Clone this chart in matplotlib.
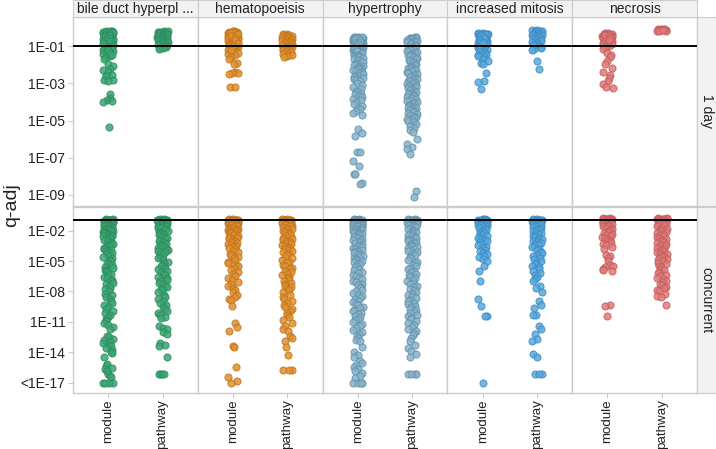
import numpy as np
import matplotlib
matplotlib.use("Agg")
import matplotlib.pyplot as plt
from matplotlib.ticker import FixedLocator, NullLocator

plt.rcParams['font.family'] = ['Liberation Sans', 'DejaVu Sans']

# ---------------- data (log10 of q-adj) ----------------
phenotypes = ["bile duct hyperpl ...", "hematopoeisis", "hypertrophy", "increased mitosis", "necrosis"]
groups = ["module", "pathway"]
rows = ["1 day", "concurrent"]
colors = ["#3aa773", "#e0902e", "#86b3cb", "#58a8dc", "#e07a7a"]
edges = ["#2d8a5c", "#c0731d", "#6390a9", "#3b8ac0", "#c45c5c"]

# 1 day
bile_mod_1d = [-0.2,-0.21,-0.23,-0.25,-0.27,-0.29,-0.31,-0.33,-0.35,-0.37,-0.4,-0.42,-0.44,-0.46,-0.48,-0.5,-0.53,-0.55,-0.57,-0.6,-0.62,-0.64,-0.67,-0.7,-0.72,-0.75,-0.78,-0.8,-0.83,-0.86,-0.9,-0.93,-0.96,-1.0,-1.03,-1.07,-1.1,-1.14,-1.18,-1.22,-1.27,-1.32,-1.37,-1.42,-1.48,-1.55,-1.6,
               -0.2,-0.22,-0.24,-0.26,-0.3,-0.34,-0.38,-0.45,-0.52,-0.58,-0.65,-0.74,-0.85,-0.95,-1.05,-1.2,-1.35,-1.5,
               -1.7,-1.95,-2.05,-2.23,-2.3,-2.38,-2.55,-2.58,-2.6,-2.8,-2.83,-2.85,-3.58,-3.8,-3.88,-3.95,-3.98,-5.34]
bile_path_1d = [-0.2,-0.21,-0.22,-0.24,-0.25,-0.27,-0.28,-0.3,-0.32,-0.33,-0.35,-0.37,-0.4,-0.42,-0.44,-0.46,-0.48,-0.5,-0.53,-0.55,-0.58,-0.6,-0.62,-0.65,-0.68,-0.7,-0.73,-0.76,-0.8,-0.83,-0.86,-0.9,-0.93,-0.96,-1.0,-1.04,-1.08,-1.12,-1.15]
hem_mod_1d = [-0.2,-0.21,-0.22,-0.24,-0.25,-0.27,-0.29,-0.31,-0.33,-0.35,-0.37,-0.4,-0.42,-0.44,-0.47,-0.5,-0.52,-0.55,-0.58,-0.6,-0.63,-0.66,-0.7,-0.73,-0.76,-0.8,-0.83,-0.86,-0.9,-0.94,-0.98,-1.02,-1.06,-1.1,-1.15,-1.2,-1.25,-1.3,-1.36,-1.42,-1.5,-1.58,
              -0.22,-0.26,-0.3,-0.36,-0.45,-0.55,-0.68,-0.85,-1.0,-1.2,
              -1.7,-1.9,-1.95,-2.4,-2.42,-2.45,-2.5,-3.22,-3.22]
hem_path_1d = [-0.35,-0.37,-0.39,-0.42,-0.44,-0.46,-0.5,-0.52,-0.55,-0.58,-0.6,-0.63,-0.66,-0.7,-0.73,-0.76,-0.8,-0.83,-0.86,-0.9,-0.93,-0.96,-1.0,-1.03,-1.06,-1.1,-1.14,-1.18,-1.22,-1.26,-1.3,-1.35,-1.4,-1.45,-1.5,-1.55,-1.6]
hyp_mod_1d = [-0.5,-0.51,-0.53,-0.55,-0.56,-0.58,-0.6,-0.62,-0.64,-0.66,-0.68,-0.7,-0.72,-0.74,-0.76,-0.78,-0.8,-0.82,-0.84,-0.86,-0.88,-0.9,-0.93,-0.96,-1.0,-1.03,-1.06,-1.1,-1.13,-1.16,-1.2,-1.23,-1.26,-1.3,-1.34,-1.38,-1.42,-1.46,-1.5,
              -0.52,-0.57,-0.63,-0.69,-0.75,-0.81,-0.87,-0.95,-1.05,-1.15,-1.25,-1.35,-1.45,
              -1.55,-1.6,-1.65,-1.7,-1.75,-1.8,-1.85,-1.9,-1.95,-2.0,-2.05,-2.1,-2.15,-2.2,-2.25,-2.3,-2.35,-2.4,-2.45,-2.5,-2.55,-2.6,-2.65,-2.7,-2.75,-2.8,-2.9,-3.0,-3.1,-3.2,-3.3,-3.4,-3.45,-3.55,-3.6,-3.7,-3.75,-3.85,-3.9,-4.0,-4.1,-4.2,-4.3,-4.4,-4.5,-4.6,-4.7,
              -5.43,-5.69,-5.83,-6.7,-6.72,-7.18,-7.45,-7.86,-7.9,-8.35,-8.43]
hyp_path_1d = [-0.5,-0.52,-0.54,-0.56,-0.58,-0.6,-0.63,-0.66,-0.7,-0.73,-0.76,-0.8,-0.85,-0.9,-0.95,-1.0,-1.05,-1.1,-1.15,-1.2,-1.25,-1.3,-1.35,-1.4,-1.45,-1.5,-1.55,-1.6,-1.65,-1.7,-1.75,-1.8,-1.85,-1.9,-1.95,-2.0,-2.05,-2.1,-2.15,-2.2,-2.25,-2.3,-2.35,-2.4,-2.45,-2.5,-2.55,-2.6,-2.65,-2.7,-2.75,-2.8,-2.85,-2.9,-2.95,-3.0,
               -3.05,-3.1,-3.15,-3.2,-3.25,-3.3,-3.35,-3.4,-3.45,-3.5,-3.55,-3.6,-3.65,-3.7,-3.75,-3.8,-3.85,-3.9,-3.95,-4.0,-4.05,-4.1,-4.15,-4.2,-4.25,-4.3,-4.35,-4.4,-4.45,-4.5,-4.55,-4.6,-4.65,-4.7,-4.75,-4.8,-4.85,-4.9,-4.95,-5.0,-5.1,-5.2,-5.3,-5.4,-5.5,-5.6,
               -6.0,-6.28,-6.4,-6.55,-6.78,-8.8,-9.1]
mit_mod_1d = [-0.3,-0.31,-0.33,-0.35,-0.37,-0.39,-0.41,-0.43,-0.46,-0.48,-0.5,-0.53,-0.56,-0.6,-0.63,-0.66,-0.7,-0.73,-0.76,-0.8,-0.83,-0.86,-0.9,-0.94,-0.98,-1.02,-1.06,-1.1,-1.15,-1.2,-1.25,-1.3,-1.35,-1.4,-1.45,-1.5,-1.55,-1.6,-1.7,-1.8,-1.9,-1.95,
              -0.32,-0.36,-0.4,-0.45,-0.55,-0.65,-0.75,-0.85,
              -2.42,-2.9,-2.95,-3.31]
mit_path_1d = [-0.14,-0.15,-0.17,-0.19,-0.21,-0.23,-0.25,-0.27,-0.3,-0.32,-0.35,-0.38,-0.4,-0.43,-0.46,-0.5,-0.53,-0.56,-0.6,-0.63,-0.66,-0.7,-0.73,-0.76,-0.8,-0.84,-0.88,-0.92,-0.96,-1.0,-1.05,-1.1,-1.15,-1.22,-1.81,-2.23]
nec_mod_1d = [-0.3,-0.31,-0.33,-0.35,-0.37,-0.39,-0.41,-0.43,-0.45,-0.48,-0.5,-0.53,-0.55,-0.58,-0.6,-0.63,-0.66,-0.7,-0.73,-0.76,-0.8,-0.83,-0.86,-0.9,-0.94,-0.98,-1.02,-1.05,
              -0.32,-0.36,-0.4,-0.47,-0.56,-0.65,
              -1.15,-1.35,-1.45,-1.6,-1.8,-1.95,-2.2,-2.4,-2.55,-2.7,-2.85,-3.05,-3.2,-3.25]
nec_path_1d = [-0.08,-0.09,-0.1,-0.11,-0.12,-0.13,-0.14,-0.15,-0.16,-0.18,-0.2,-0.1,-0.15]

# concurrent
bile_mod_c = [-0.9,-0.91,-0.92,-0.94,-0.95,-0.97,-0.98,-1.0,-1.02,-1.04,-1.06,-1.08,-1.1,-1.12,-1.15,-1.18,-1.2,-1.23,-1.26,-1.3,-1.33,-1.36,-1.4,-1.44,-1.48,-1.52,-1.56,-1.6,-1.65,-1.7,-1.75,-1.8,-1.85,-1.9,-1.95,-2.0,-2.05,-2.1,-2.15,-2.2,-2.25,-2.3,-2.35,-2.4,-2.45,-2.5,-2.55,-2.6,-2.7,-2.8,-2.9,-3.0,-3.1,-3.2,-3.3,-3.4,-3.5,-3.6,-3.7,
              -3.8,-3.9,-4.0,-4.1,-4.2,-4.35,-4.5,-4.6,-4.75,-4.9,-5.0,-5.15,-5.3,-5.4,-5.55,-5.7,-5.85,-6.0,-6.1,-6.25,-6.4,-6.55,-6.7,-6.85,-7.0,-7.15,-7.3,-7.5,-7.65,-7.8,-8.0,-8.2,-8.35,-8.5,-8.7,-8.9,-9.1,-9.3,-9.5,-9.7,-9.9,-10.1,-10.3,-10.5,-10.7,-10.9,-11.1,-11.3,-11.5,-11.7,
              -12.4,-12.5,-12.7,-12.8,-13.0,-13.1,-13.3,-13.4,-13.6,-13.8,-14.0,-14.1,-14.5,-15.1,-15.3,-15.5,-15.6,-15.8,-16.1,-16.3,-16.4,-17,-17,-17,-17]
bile_path_c = [-0.9,-0.91,-0.92,-0.94,-0.96,-0.98,-1.0,-1.03,-1.06,-1.1,-1.13,-1.16,-1.2,-1.25,-1.3,-1.35,-1.4,-1.45,-1.5,-1.55,-1.6,-1.65,-1.7,-1.75,-1.8,-1.9,-2.0,-2.1,-2.2,-2.3,-2.4,-2.5,-2.6,-2.7,-2.8,-2.9,-3.0,-3.1,-3.2,-3.3,-3.4,-3.5,-3.6,-3.7,-3.8,-3.9,-4.0,-4.15,-4.3,-4.45,-4.6,-4.75,-4.9,-5.05,-5.2,-5.35,-5.5,-5.65,-5.8,-5.95,-6.1,-6.25,-6.4,-6.55,-6.7,-6.85,-7.0,-7.15,-7.3,-7.45,-7.6,-7.75,-7.9,-8.1,-8.3,-8.5,-8.7,-8.9,-9.1,-9.3,-9.5,-9.7,-9.9,-10.1,-10.3,-10.5,-10.6,
               -11.4,-11.6,-11.7,-12.0,-12.2,-13.1,-13.3,-13.4,-14.5,-16.15,-16.15,-16.15,-16.15]
hem_mod_c = [-0.9,-0.91,-0.92,-0.93,-0.95,-0.96,-0.98,-1.0,-1.02,-1.04,-1.06,-1.08,-1.1,-1.13,-1.16,-1.2,-1.23,-1.26,-1.3,-1.34,-1.38,-1.42,-1.46,-1.5,-1.55,-1.6,-1.65,-1.7,-1.75,-1.8,-1.85,-1.9,-1.95,-2.0,-2.05,-2.1,-2.15,-2.2,-2.25,-2.3,-2.4,-2.5,-2.6,-2.7,-2.8,-2.9,-3.0,-3.1,-3.2,-3.3,-3.4,-3.5,-3.6,-3.7,
             -3.85,-4.0,-4.15,-4.3,-4.45,-4.6,-4.75,-4.9,-5.05,-5.2,-5.35,-5.5,-5.7,-5.9,-6.1,-6.3,-6.5,-6.7,-6.9,-7.1,-7.3,-7.5,-7.7,-7.9,-8.1,-8.3,-8.5,-8.7,-8.8,
             -9.4,-11.1,-11.5,-11.9,-13.4,-13.5,-15.4,-16.47,-16.8,-17]
hem_path_c = [-0.9,-0.91,-0.92,-0.94,-0.96,-0.98,-1.0,-1.03,-1.06,-1.1,-1.13,-1.16,-1.2,-1.25,-1.3,-1.35,-1.4,-1.45,-1.5,-1.55,-1.6,-1.65,-1.7,-1.8,-1.9,-2.0,-2.1,-2.2,-2.3,-2.4,-2.5,-2.6,-2.7,-2.8,-2.9,-3.0,-3.1,-3.2,-3.3,-3.4,-3.5,-3.6,-3.7,-3.8,-3.9,-4.0,-4.15,-4.3,-4.45,-4.6,-4.75,-4.9,-5.05,-5.2,-5.35,-5.5,-5.65,-5.8,-5.95,-6.1,-6.25,-6.4,-6.55,-6.7,-6.85,-7.0,-7.15,-7.3,-7.45,-7.6,-7.75,-7.9,-8.1,-8.3,-8.5,-8.7,-8.9,-9.1,-9.3,-9.5,-9.7,-9.9,-10.1,-10.3,-10.5,-10.8,-11.1,-11.4,-11.7,-11.9,
              -12.4,-12.6,-12.9,-13.5,-14.3,-15.7,-15.7,-15.7]
hyp_mod_c = [-0.9,-0.91,-0.92,-0.93,-0.94,-0.95,-0.97,-0.98,-1.0,-1.02,-1.04,-1.06,-1.08,-1.1,-1.12,-1.15,-1.18,-1.2,-1.23,-1.26,-1.3,-1.33,-1.36,-1.4,-1.44,-1.48,-1.52,-1.56,-1.6,-1.65,-1.7,-1.75,-1.8,-1.85,-1.9,-1.95,-2.0,-2.05,-2.1,-2.15,-2.2,-2.25,-2.3,-2.35,-2.4,-2.5,-2.6,-2.7,-2.8,-2.9,-3.0,-3.1,-3.2,-3.3,-3.4,-3.5,-3.6,-3.7,-3.8,-3.9,-4.0,
             -4.1,-4.2,-4.3,-4.4,-4.5,-4.6,-4.7,-4.8,-4.9,-5.0,-5.1,-5.2,-5.3,-5.45,-5.6,-5.75,-5.9,-6.05,-6.2,-6.35,-6.5,-6.65,-6.8,-6.95,-7.1,-7.25,-7.4,-7.55,-7.7,-7.85,-8.0,-8.15,-8.3,-8.45,-8.6,-8.75,-8.9,-9.05,-9.2,-9.35,-9.5,-9.65,-9.8,-9.95,-10.1,-10.25,-10.4,-10.55,-10.7,-10.85,-11.0,-11.2,-11.4,-11.6,-11.8,-12.0,-12.2,-12.4,-12.6,-12.8,-12.9,
             -13.5,-14.0,-14.3,-14.5,-14.8,-15.0,-15.2,-15.4,-15.6,-15.8,-16.0,-16.3,-16.5,-17,-17,-17,-17]
hyp_path_c = [-0.9,-0.91,-0.92,-0.94,-0.96,-0.98,-1.0,-1.03,-1.06,-1.1,-1.13,-1.16,-1.2,-1.25,-1.3,-1.35,-1.4,-1.45,-1.5,-1.55,-1.6,-1.65,-1.7,-1.8,-1.9,-2.0,-2.1,-2.2,-2.3,-2.4,-2.5,-2.6,-2.7,-2.8,-2.9,-3.0,-3.1,-3.2,-3.3,-3.4,-3.5,-3.6,-3.7,-3.8,-3.9,-4.0,-4.15,-4.3,-4.45,-4.6,-4.75,-4.9,-5.05,-5.2,-5.35,-5.5,-5.65,-5.8,-5.95,-6.1,-6.25,-6.4,-6.55,-6.7,-6.85,-7.0,-7.15,-7.3,-7.45,-7.6,-7.75,-7.9,-8.05,-8.2,-8.35,-8.5,-8.65,-8.8,-8.95,-9.1,-9.25,-9.4,-9.55,-9.7,-9.85,-10.0,-10.15,-10.3,-10.45,-10.6,-10.75,-10.9,-11.1,-11.3,-11.5,-11.7,-11.9,-12.1,-12.3,-12.6,-12.9,-13.3,-13.6,-13.9,-14.2,-14.5,
              -16.15,-16.15,-16.15,-16.15]
mit_mod_c = [-0.9,-0.91,-0.92,-0.93,-0.95,-0.96,-0.98,-1.0,-1.02,-1.04,-1.06,-1.08,-1.1,-1.13,-1.16,-1.2,-1.23,-1.26,-1.3,-1.34,-1.38,-1.42,-1.46,-1.5,-1.55,-1.6,-1.65,-1.7,-1.8,-1.9,-2.0,-2.1,-2.2,-2.3,-2.4,-2.5,-2.6,-2.7,-2.8,-2.9,-3.0,-3.15,-3.3,-3.45,-3.6,-3.75,-3.9,-4.05,-4.2,-4.35,-4.5,-4.65,-4.8,-5.0,
             -5.5,-6.0,-7.0,-8.7,-9.4,-10.4,-10.4,-17]
mit_path_c = [-0.9,-0.91,-0.92,-0.94,-0.96,-0.98,-1.0,-1.03,-1.06,-1.1,-1.13,-1.16,-1.2,-1.25,-1.3,-1.35,-1.4,-1.45,-1.5,-1.55,-1.6,-1.65,-1.7,-1.8,-1.9,-2.0,-2.1,-2.2,-2.3,-2.4,-2.5,-2.6,-2.7,-2.8,-2.9,-3.0,-3.1,-3.2,-3.3,-3.4,-3.5,-3.65,-3.8,-3.95,-4.1,-4.25,-4.4,-4.55,-4.7,-4.85,-5.0,-5.15,-5.3,-5.45,-5.6,-5.8,-6.0,-6.2,-6.4,-6.6,-6.8,-7.0,
              -7.5,-7.7,-8.1,-8.95,-9.3,-9.6,-10.3,-10.3,-11.4,-11.7,-12.2,-12.7,-12.9,-14.2,-14.5,-16.15,-16.15,-16.15]
nec_mod_c = [-0.8,-0.81,-0.82,-0.84,-0.85,-0.87,-0.88,-0.9,-0.92,-0.94,-0.96,-0.98,-1.0,-1.03,-1.06,-1.1,-1.13,-1.16,-1.2,-1.25,-1.3,-1.35,-1.4,-1.45,-1.5,-1.55,-1.6,-1.7,-1.8,-1.9,-2.0,-2.1,-2.2,-2.3,-2.4,-2.5,-2.6,-2.7,-2.8,-2.9,-3.0,-3.1,-3.2,-3.3,-3.4,
             -3.6,-3.8,-4.4,-4.5,-4.7,-5.0,-5.4,-5.5,-5.6,-5.8,-5.9,-6.0,-9.3,-9.4,-10.4]
nec_path_c = [-0.8,-0.81,-0.82,-0.84,-0.86,-0.88,-0.9,-0.93,-0.96,-1.0,-1.03,-1.06,-1.1,-1.15,-1.2,-1.25,-1.3,-1.35,-1.4,-1.5,-1.6,-1.7,-1.8,-1.9,-2.0,-2.1,-2.2,-2.3,-2.4,-2.5,-2.6,-2.7,-2.8,-2.9,-3.0,-3.1,-3.2,-3.3,-3.4,-3.5,-3.6,-3.7,-3.8,-3.9,-4.0,-4.1,-4.2,-4.3,-4.4,-4.5,-4.6,-4.7,-4.8,-4.9,-5.0,-5.15,-5.3,-5.45,-5.6,-5.75,-5.9,-6.05,-6.2,-6.35,-6.5,-6.65,-6.8,-6.95,-7.1,-7.25,-7.4,-7.55,-7.7,-7.85,-8.0,-8.2,-8.4,-8.5,-9.3]

data = {
    "1 day": [(bile_mod_1d, bile_path_1d), (hem_mod_1d, hem_path_1d), (hyp_mod_1d, hyp_path_1d),
              (mit_mod_1d, mit_path_1d), (nec_mod_1d, nec_path_1d)],
    "concurrent": [(bile_mod_c, bile_path_c), (hem_mod_c, hem_path_c), (hyp_mod_c, hyp_path_c),
                   (mit_mod_c, mit_path_c), (nec_mod_c, nec_path_c)],
}
ytick_vals = {"1 day": [1e-1, 1e-3, 1e-5, 1e-7, 1e-9],
              "concurrent": [1e-2, 1e-5, 1e-8, 1e-11, 1e-14, 1e-17]}
ytick_labels = {"1 day": ["1E-01", "1E-03", "1E-05", "1E-07", "1E-09"],
                "concurrent": ["1E-02", "1E-05", "1E-08", "1E-11", "1E-14", "<1E-17"]}
ylims = {"1 day": (10**-9.6, 10**0.57), "concurrent": (10**-18, 10**0.32)}
threshold = 0.1

# ---------------- layout ----------------
W, H = 716, 449
fig = plt.figure(figsize=(W / 100, H / 100), dpi=100)

def px_axes(x0, y0, x1, y1, **kw):
    return fig.add_axes([x0 / W, 1 - y1 / H, (x1 - x0) / W, (y1 - y0) / H], **kw)

left, right = 73, 697
colw = (right - left) / 5
row_px = {"1 day": (17, 206), "concurrent": (207, 393)}
grid_c = "#cccccc"
rng = np.random.default_rng(7)
slots = np.array([-0.08, -0.04, 0.0, 0.04, 0.08])

def strat_jitter(vals):
    # sort by value, give each consecutive block of 5 points the 5 lanes in random order
    order = np.argsort(vals)
    out = np.empty(len(vals))
    for i in range(0, len(vals), 5):
        idx = order[i:i + 5]
        lanes = rng.permutation(slots)[:len(idx)] + rng.uniform(-0.015, 0.015, len(idx))
        out[idx] = lanes
    return out

for r, row in enumerate(rows):
    y0, y1 = row_px[row]
    for c, ph in enumerate(phenotypes):
        ax = px_axes(left + c * colw, y0, left + (c + 1) * colw, y1)
        ax.set_yscale("log")
        for g in range(2):
            logs = np.array(data[row][c][g], dtype=float)
            vals = 10 ** logs
            jit = strat_jitter(logs)
            ax.scatter(g + jit, vals, s=26, c=colors[c], edgecolors=edges[c],
                       linewidths=0.7, alpha=0.85, zorder=2)
        ax.axhline(threshold, color="black", lw=1.4, zorder=3)
        ax.set_xlim(-0.65, 1.65)
        ax.set_ylim(*ylims[row])
        ax.set_xticks([0, 1])
        ax.yaxis.set_major_locator(FixedLocator(ytick_vals[row]))
        ax.yaxis.set_minor_locator(NullLocator())
        for s in ax.spines.values():
            s.set_color(grid_c)
            s.set_linewidth(1.0)
        ax.tick_params(axis="both", which="major", length=3.5, width=0.8, color=grid_c,
                       labelsize=10, labelcolor="#222222", pad=2)
        ax.tick_params(axis="x", pad=1)
        if c == 0:
            ax.set_yticklabels(ytick_labels[row])
        else:
            ax.set_yticklabels([])
            ax.tick_params(axis="y", length=0)
        if r == 1:
            ax.set_xticklabels(groups, rotation=90, fontsize=9.6)
        else:
            ax.set_xticklabels([])
        if r == 0:
            sax = px_axes(left + c * colw, 0, left + (c + 1) * colw, 17)
            sax.set_facecolor("#f2f2f2")
            sax.set_xticks([]); sax.set_yticks([])
            for s in sax.spines.values():
                s.set_color(grid_c)
            sax.text(0.5, 0.45, ph, ha="center", va="center", fontsize=10, color="#222222",
                     transform=sax.transAxes)
    rax = px_axes(right, y0, W, y1)
    rax.set_facecolor("#f2f2f2")
    rax.set_xticks([]); rax.set_yticks([])
    for s in rax.spines.values():
        s.set_color(grid_c)
    rax.text(0.5, 0.5, row, rotation=270, ha="center", va="center", fontsize=10,
             color="#222222", transform=rax.transAxes)

fig.text(12 / W, 1 - 205 / H, "q-adj", rotation=90, ha="center", va="center",
         fontsize=14, color="#222222")

fig.savefig("out.png", dpi=100)
